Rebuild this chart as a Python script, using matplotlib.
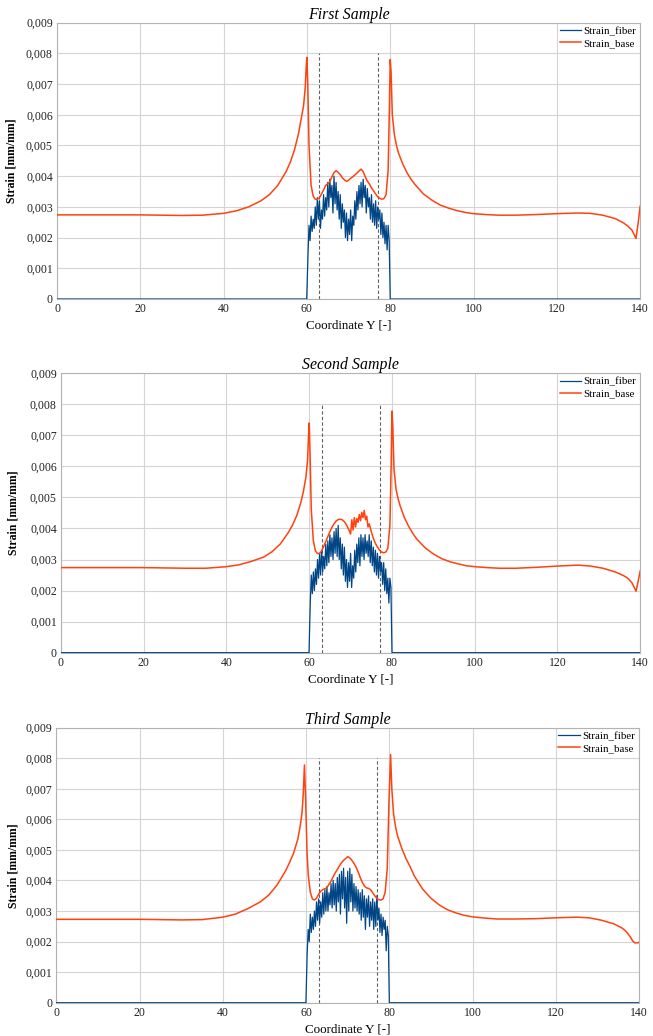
import numpy as np
import matplotlib
matplotlib.use('Agg')
import matplotlib.pyplot as plt
from matplotlib.ticker import FuncFormatter, MultipleLocator

plt.rcParams.update({
    'font.family': ['Liberation Serif', 'DejaVu Serif'],
    'font.size': 8,
})

titles = ['First Sample', 'Second Sample', 'Third Sample']
fiber_label = 'Strain_fiber'
base_label = 'Strain_base'
cut_lines = [63, 77]

# base strain, x in Coordinate Y, values in 1e-3 mm/mm
base1_x = [0, 10, 20, 25, 30, 35, 40, 43, 46, 49, 51, 53, 55, 56, 57, 58, 58.6, 59.2, 59.6, 59.8,
           60.0, 60.2, 60.5, 61.0, 61.5, 62.0, 62.5, 63.0, 63.5, 64.0, 64.5, 65.0, 65.5, 66.0, 66.5,
           67.0, 67.5, 68.0, 68.5, 69.0, 69.5, 70.0, 70.5, 71.0, 71.5, 72.0, 72.5, 73.0, 73.5, 74.0,
           74.5, 75.0, 75.5, 76.0, 76.5, 77.0, 77.5, 78.0, 78.5, 79.0, 79.5, 79.8, 80.0, 80.2, 80.5,
           81.0, 81.5, 82.0, 83.0, 84.0, 85.0, 86.0, 88.0, 90.0, 92.0, 94.0, 96.0, 98.0, 100.0, 103.0,
           106.0, 110.0, 115.0, 120.0, 125.0, 128.0, 131.0, 134.0, 136.0, 137.0, 138.0, 138.5, 139.0,
           139.5, 140.0]
base1_y = [2.74, 2.74, 2.74, 2.73, 2.72, 2.73, 2.79, 2.87, 3.00, 3.20, 3.40, 3.70, 4.15, 4.45, 4.85,
           5.40, 5.85, 6.30, 6.90, 7.50, 7.87, 7.00, 5.00, 3.70, 3.35, 3.25, 3.24, 3.30, 3.42, 3.55,
           3.70, 3.76, 3.82, 3.98, 4.12, 4.18, 4.13, 4.05, 3.95, 3.88, 3.83, 3.87, 3.93, 3.98, 4.04,
           4.10, 4.17, 4.23, 4.15, 3.98, 3.84, 3.75, 3.62, 3.52, 3.42, 3.33, 3.28, 3.25, 3.27, 3.40,
           4.20, 6.20, 7.80, 7.40, 6.00, 5.35, 5.00, 4.75, 4.40, 4.12, 3.90, 3.72, 3.42, 3.22, 3.06,
           2.96, 2.88, 2.82, 2.78, 2.75, 2.73, 2.73, 2.75, 2.78, 2.80, 2.79, 2.73, 2.62, 2.48, 2.38,
           2.25, 2.12, 1.97, 2.45, 3.02]

base2_x = [0, 10, 20, 25, 30, 35, 40, 43, 46, 49, 51, 53, 55, 56, 57, 58, 58.6, 59.2, 59.6, 59.8,
           60.0, 60.2, 60.5, 61.0, 61.5, 62.0, 62.5, 63.0, 63.5, 64.0, 64.5, 65.0, 65.5, 66.0, 66.5,
           67.0, 67.5, 68.0, 68.5, 69.0, 69.5, 70.0, 70.3, 70.6, 70.9, 71.2, 71.5, 71.8, 72.1, 72.4,
           72.7, 73.0, 73.3, 73.6, 73.9, 74.2, 74.5, 75.0, 75.5, 76.0, 76.5, 77.0, 77.5, 78.0, 78.5,
           79.0, 79.5, 79.8, 80.0, 80.2, 80.5, 81.0, 81.5, 82.0, 83.0, 84.0, 85.0, 86.0, 88.0, 90.0,
           92.0, 94.0, 96.0, 98.0, 100.0, 103.0, 106.0, 110.0, 115.0, 120.0, 125.0, 128.0, 131.0,
           134.0, 136.0, 137.0, 138.0, 138.5, 139.0, 139.5, 140.0]
base2_y = [2.74, 2.74, 2.74, 2.73, 2.72, 2.72, 2.77, 2.83, 2.94, 3.08, 3.25, 3.50, 3.88, 4.12, 4.42,
           4.85, 5.20, 5.65, 6.20, 6.90, 7.40, 6.40, 4.60, 3.60, 3.28, 3.19, 3.20, 3.28, 3.42, 3.58,
           3.74, 3.90, 4.04, 4.15, 4.24, 4.29, 4.30, 4.28, 4.22, 4.12, 3.98, 3.82, 4.28, 3.95, 4.35,
           4.05, 4.32, 4.20, 4.45, 4.25, 4.52, 4.35, 4.58, 4.28, 4.40, 4.05, 4.15, 3.90, 3.68, 3.52,
           3.40, 3.30, 3.24, 3.22, 3.24, 3.36, 4.10, 6.00, 7.78, 7.30, 5.90, 5.25, 4.95, 4.72, 4.35,
           4.08, 3.85, 3.66, 3.38, 3.18, 3.03, 2.93, 2.86, 2.80, 2.77, 2.74, 2.72, 2.72, 2.75, 2.79,
           2.82, 2.79, 2.72, 2.60, 2.48, 2.40, 2.25, 2.12, 1.98, 2.30, 2.63]

base3_x = [0, 10, 20, 25, 30, 35, 40, 43, 46, 49, 51, 53, 55, 56, 57, 58, 58.6, 59.0, 59.3, 59.6,
           59.9, 60.2, 60.5, 61.0, 61.5, 62.0, 62.5, 63.0, 63.5, 64.0, 64.5, 65.0, 65.5, 66.0, 66.5,
           67.0, 67.5, 68.0, 68.5, 69.0, 69.5, 70.0, 70.5, 71.0, 71.5, 72.0, 72.5, 73.0, 73.5, 74.0,
           74.5, 75.0, 75.5, 76.0, 76.5, 77.0, 77.5, 78.0, 78.5, 79.0, 79.5, 79.9, 80.3, 80.6, 81.0,
           81.5, 82.0, 83.0, 84.0, 85.0, 86.0, 88.0, 90.0, 92.0, 94.0, 96.0, 98.0, 100.0, 103.0,
           106.0, 110.0, 115.0, 120.0, 125.0, 128.0, 131.0, 134.0, 136.0, 137.0, 138.0, 138.5, 139.0,
           139.5, 140.0]
base3_y = [2.73, 2.73, 2.73, 2.72, 2.71, 2.72, 2.80, 2.90, 3.08, 3.30, 3.52, 3.85, 4.30, 4.58, 4.90,
           5.35, 5.80, 6.20, 6.80, 7.78, 6.60, 5.00, 4.20, 3.62, 3.40, 3.36, 3.42, 3.55, 3.65, 3.70,
           3.73, 3.76, 3.88, 3.98, 4.12, 4.25, 4.36, 4.48, 4.58, 4.66, 4.72, 4.78, 4.74, 4.66, 4.56,
           4.44, 4.28, 4.10, 3.94, 3.82, 3.76, 3.74, 3.70, 3.60, 3.50, 3.42, 3.37, 3.36, 3.40, 3.62,
           4.40, 6.50, 8.12, 7.00, 6.20, 5.75, 5.45, 5.05, 4.72, 4.45, 4.15, 3.72, 3.42, 3.20, 3.04,
           2.94, 2.86, 2.81, 2.77, 2.74, 2.74, 2.75, 2.78, 2.80, 2.78, 2.70, 2.58, 2.44, 2.32, 2.14,
           2.02, 1.96, 1.96, 1.97]

# fiber strain from 60.25 to 79.75 every 0.25 (one row per unit), values in 1e-3 mm/mm
fiber1_y = [1.4, 2.4, 1.9, 2.7,  2.2, 2.6, 2.3, 3.0,  2.4, 3.3, 2.6, 3.2,  2.3, 2.9, 2.6, 3.4,
            2.7, 3.3, 2.9, 3.8,  3.0, 3.9, 3.3, 3.7,  2.8, 4.0, 3.1, 3.8,  2.9, 3.5, 2.6, 3.4,
            2.3, 3.1, 2.5, 2.9,  2.0, 2.8, 1.9, 2.6,  2.1, 2.9, 1.9, 2.7,  2.4, 3.2, 2.6, 3.5,
            2.9, 3.7, 3.1, 3.8,  3.0, 3.9, 3.3, 3.7,  2.8, 3.6, 3.0, 3.3,  2.6, 3.4, 2.5, 3.1,
            2.4, 3.2, 2.3, 3.0,  2.6, 2.9, 2.1, 2.8,  2.0, 2.5, 1.8, 2.4,  1.6, 2.4, 1.9]
fiber2_y = [1.6, 2.5, 1.9, 2.6,  2.0, 2.7, 2.2, 3.0,  2.4, 3.2, 2.5, 3.3,  2.6, 3.1, 2.7, 3.5,
            2.8, 3.6, 2.9, 3.8,  3.1, 3.7, 3.0, 3.9,  3.2, 4.0, 3.1, 4.1,  3.0, 3.7, 2.7, 3.5,
            2.5, 3.4, 2.3, 3.0,  2.1, 2.9, 2.3, 3.2,  2.1, 2.8, 2.4, 3.3,  2.6, 3.5, 2.9, 3.7,
            2.8, 3.8, 3.1, 3.7,  3.0, 3.8, 3.2, 3.6,  3.1, 3.8, 2.9, 3.6,  2.8, 3.4, 2.6, 3.3,
            2.5, 3.2, 2.4, 3.1,  2.6, 2.9, 2.2, 2.9,  2.0, 2.7, 1.9, 2.4,  1.6, 2.4, 2.1]
fiber3_y = [1.6, 2.4, 2.0, 2.9,  2.3, 2.8, 2.4, 3.0,  2.5, 3.3, 2.7, 3.4,  2.6, 3.3, 2.8, 3.6,
            2.9, 3.7, 3.0, 3.8,  3.0, 3.6, 3.2, 3.9,  3.1, 4.0, 3.2, 3.9,  3.0, 4.1, 3.3, 4.2,
            2.9, 4.3, 3.4, 4.4,  3.1, 4.1, 2.6, 4.3,  3.0, 4.4, 3.3, 4.2,  3.0, 3.9, 3.1, 3.8,
            3.0, 3.7, 2.9, 3.6,  2.7, 3.7, 2.8, 3.5,  2.4, 3.4, 2.8, 3.5,  2.5, 3.3, 2.7, 3.4,
            2.4, 3.3, 2.5, 3.5,  2.7, 3.1, 2.3, 2.9,  2.2, 2.8, 2.4, 2.7,  1.7, 2.5, 2.2]
fiber_x = np.round(np.arange(60.25, 79.76, 0.25), 2)

bases = [(base1_x, base1_y), (base2_x, base2_y), (base3_x, base3_y)]
fibers = [fiber1_y, fiber2_y, fiber3_y]

# axes boxes in figure fraction [left, bottom, width, height]
boxes = [[0.0873, 0.7114, 0.8930, 0.2667],
         [0.0934, 0.3700, 0.8870, 0.2697],
         [0.0865, 0.0321, 0.8920, 0.2655]]
ylab_x = [-0.067, -0.071, -0.063]

fig = plt.figure(figsize=(6.53, 10.36), dpi=100)

def comma_fmt(v, pos):
    if abs(v) < 1e-12:
        return '0'
    return f'{v:.3f}'.replace('.', ',')

for i in range(3):
    ax = fig.add_axes(boxes[i])
    bx, by = bases[i]
    fx = np.concatenate([[0, 59.95], fiber_x, [80.0, 140]])
    fy = np.concatenate([[0, 0], fibers[i], [0, 0]]) * 1e-3
    ax.plot(fx, fy, color='#004586', lw=0.9, label=fiber_label, zorder=3)
    ax.plot(bx, np.array(by) * 1e-3, color='#ff420e', lw=1.1, label=base_label, zorder=3)
    ax.vlines(cut_lines, 0, 0.008, colors='#606060', linestyles=(0, (3, 2)), lw=0.8, zorder=2)

    ax.set_xlim(0, 140)
    ax.set_ylim(0, 0.009)
    ax.xaxis.set_major_locator(MultipleLocator(20))
    ax.yaxis.set_major_locator(MultipleLocator(0.001))
    ax.yaxis.set_major_formatter(FuncFormatter(comma_fmt))
    ax.grid(True, color='#d4d4d4', lw=0.8, zorder=0)
    ax.set_axisbelow(True)
    for spine in ax.spines.values():
        spine.set_color('#b3b3b3')
        spine.set_linewidth(0.8)
    ax.tick_params(length=0, pad=3, labelsize=8.5, colors='#222222')

    ax.set_title(titles[i], fontsize=11.4, style='italic', pad=3)
    ax.set_xlabel('Coordinate Y [-]', fontsize=9.4, labelpad=3)
    ax.set_ylabel('Strain [mm/mm]', fontsize=8.5, fontweight='bold')
    ax.yaxis.set_label_coords(ylab_x[i], 0.5)
    ax.legend(loc='upper right', frameon=False, fontsize=7.8, handlelength=2.0,
              handletextpad=0.2, labelspacing=0.2, borderaxespad=0.15, borderpad=0.2)

fig.savefig('out.png', dpi=100)
